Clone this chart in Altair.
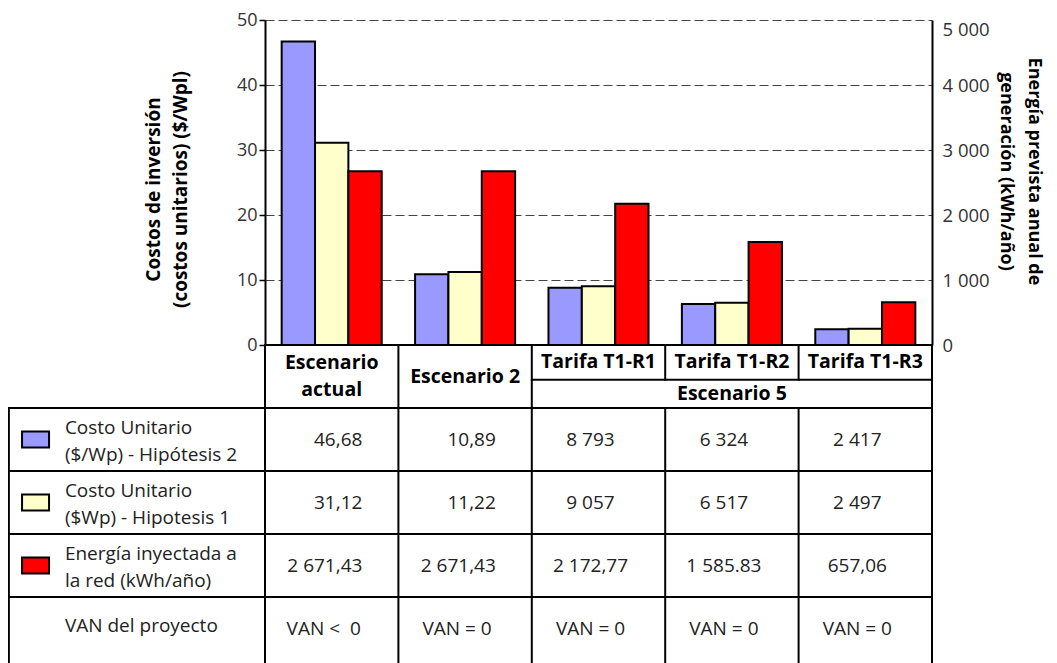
import altair as alt
import pandas as pd

# ---------------- data ----------------
scenarios = ["Escenario actual", "Escenario 2", "Tarifa T1-R1", "Tarifa T1-R2", "Tarifa T1-R3"]
series_names = [
    "Costo Unitario ($/Wp) - Hipótesis 2",
    "Costo Unitario ($Wp) - Hipotesis 1",
    "Energía inyectada a la red (kWh/año)",
]
series_colors = ["#9999FF", "#FFFFCC", "#FF0000"]
cost_h2 = [46.68, 10.89, 8.793, 6.324, 2.417]
cost_h1 = [31.12, 11.22, 9.057, 6.517, 2.497]
energy = [2671.43, 2671.43, 2172.77, 1585.83, 657.06]

cost_ticks = [0, 10, 20, 30, 40, 50]
energy_ticks = [0, 1000, 2000, 3000, 4000, 5000]

header_labels = ["Escenario\nactual", "Escenario 2", "Tarifa T1-R1", "Tarifa T1-R2", "Tarifa T1-R3"]
group_label = "Escenario 5"
row_labels = [
    "Costo Unitario\n($/Wp) - Hipótesis 2",
    "Costo Unitario\n($Wp) - Hipotesis 1",
    "Energía inyectada a\nla red (kWh/año)",
    "VAN del proyecto",
]
text_h2 = ["46,68", "10,89", "8 793", "6 324", "2 417"]
text_h1 = ["31,12", "11,22", "9 057", "6 517", "2 497"]
text_energy = ["2 671,43", "2 671,43", "2 172,77", "1 585.83", "657,06"]
text_van = ["VAN <\u00a0 0", "VAN = 0", "VAN = 0", "VAN = 0", "VAN = 0"]

# ---------------- layout (table units: one data column = 1) ----------------
W, H = 667, 325
ROW_PX = 63
LINE_H = 27
LABEL_COL = -1.92      # left edge of label column
SPLIT = 0.55           # split line inside header (Tarifa / Escenario 5)
BOTTOM = 5.3
F = "Open Sans"
FS = 19

n = len(scenarios)
tx = alt.Scale(domain=[0, n], range=[0, W], nice=False, zero=False)
ty = alt.Scale(domain=[0, 5], range=[H, H + 5 * ROW_PX], nice=False, zero=False)

# ---------------- bar data ----------------
cost_df = pd.DataFrame(
    [{"scenario": s, "series": series_names[0], "value": v} for s, v in zip(scenarios, cost_h2)]
    + [{"scenario": s, "series": series_names[1], "value": v} for s, v in zip(scenarios, cost_h1)]
)
energy_df = pd.DataFrame(
    [{"scenario": s, "series": series_names[2], "value": v} for s, v in zip(scenarios, energy)]
)

x_band = alt.X("scenario:N", sort=scenarios, axis=None,
               scale=alt.Scale(domain=scenarios, paddingInner=0, paddingOuter=0))
x_off = alt.XOffset("series:N", scale=alt.Scale(domain=series_names, paddingInner=0, paddingOuter=0.5))
color = alt.Color("series:N", scale=alt.Scale(domain=series_names, range=series_colors), legend=None)

cost_bars = alt.Chart(cost_df).mark_bar(stroke="black", strokeWidth=2).encode(
    x=x_band,
    xOffset=x_off,
    y=alt.Y(
        "value:Q",
        scale=alt.Scale(domain=[0, 50], nice=False),
        axis=alt.Axis(
            orient="left", values=cost_ticks,
            title=["Costos de inversión", "(costos unitarios) ($/Wpl)"],
            grid=True, gridDash=[9, 4], gridColor="#444444", gridWidth=1,
            domainColor="black", domainWidth=2,
            tickColor="black", tickSize=6, tickWidth=1.5,
            labelFont=F, labelFontSize=18, labelColor="#333333", labelPadding=2,
            titleFont=F, titleFontSize=19, titleFontWeight="bold", titleColor="black",
            titleAngle=270, titleBaseline="bottom", titleAlign="center",
            titleX=-102, titleY=169, titleLineHeight=27,
        ),
    ),
    color=color,
)

energy_bars = alt.Chart(energy_df).mark_bar(stroke="black", strokeWidth=2).encode(
    x=x_band,
    xOffset=x_off,
    y=alt.Y(
        "value:Q",
        scale=alt.Scale(domain=[0, 5000], nice=False),
        axis=alt.Axis(
            orient="right", values=energy_ticks,
            labelExpr="replace(format(datum.value, ','), ',', ' ')",
            labelBaseline={"condition": {"test": "datum.value === 5000", "value": "top"}, "value": "middle"},
            title=["Energía prevista anual de", "generación (kWh/año)"],
            grid=False, ticks=False,
            domainColor="black", domainWidth=2,
            labelFont=F, labelFontSize=18.5, labelColor="#333333", labelPadding=10,
            titleFont=F, titleFontSize=18, titleFontWeight="bold", titleColor="black",
            titleAngle=90, titleBaseline="bottom", titleAlign="center",
            titleX=92, titleY=151, titleLineHeight=28,
        ),
    ),
    color=color,
)

# ---------------- table structure ----------------
hlines = [{"y": 0, "x0": 0, "x1": n}, {"y": SPLIT, "x0": 2, "x1": n}]
hlines += [{"y": r, "x0": LABEL_COL, "x1": n} for r in range(1, 5)]
vlines = [{"x": LABEL_COL, "y0": 1, "y1": BOTTOM}]
for c in range(n + 1):
    if c in (3, 4):
        vlines.append({"x": c, "y0": 0, "y1": SPLIT})
        vlines.append({"x": c, "y0": 1, "y1": BOTTOM})
    else:
        vlines.append({"x": c, "y0": 0, "y1": BOTTOM})

h_rules = alt.Chart(pd.DataFrame(hlines)).mark_rule(color="black", strokeWidth=2, strokeCap="square").encode(
    x=alt.X("x0:Q", scale=tx, axis=None), x2="x1:Q",
    y=alt.Y("y:Q", scale=ty, axis=None),
)
v_rules = alt.Chart(pd.DataFrame(vlines)).mark_rule(color="black", strokeWidth=2, strokeCap="square").encode(
    x=alt.X("x:Q", scale=tx, axis=None),
    y=alt.Y("y0:Q", scale=ty, axis=None), y2="y1:Q",
)


def text_layer(rows, dy=0, **kw):
    return alt.Chart(pd.DataFrame(rows)).mark_text(
        font=F, lineBreak="\n", lineHeight=LINE_H, baseline="middle", dy=dy, **kw
    ).encode(
        x=alt.X("x:Q", scale=tx, axis=None), y=alt.Y("y:Q", scale=ty, axis=None), text="t:N",
    )


def split_multi(rows):
    multi = [r for r in rows if "\n" in r["t"]]
    single = [r for r in rows if "\n" not in r["t"]]
    return multi, single


# header texts
head = []
for i, lab in enumerate(header_labels):
    head.append({"x": i + 0.5, "y": 0.5 if i < 2 else SPLIT / 2, "t": lab})
head.append({"x": 2 + (n - 2) / 2, "y": (SPLIT + 1) / 2, "t": group_label})
hm, hs = split_multi(head)
head_style = dict(fontSize=19.5, fontWeight="bold", align="center", color="black")
head_multi = text_layer(hm, dy=-LINE_H / 2, **head_style)
head_single = text_layer(hs, **head_style)

# label column
labs = [{"x": LABEL_COL + 0.42, "y": r + 1.5, "t": t} for r, t in enumerate(row_labels)]
lm, ls = split_multi(labs)
lab_style = dict(fontSize=FS, align="left", color="#222222")
label_multi = text_layer(lm, dy=-12, **lab_style)
label_single = text_layer(ls, dy=-3, **lab_style)

sw_df = pd.DataFrame([{"x": LABEL_COL + 0.2, "y": r + 1.5, "series": s} for r, s in enumerate(series_names)])
swatches = alt.Chart(sw_df).mark_point(
    shape="M-1,-0.6L1,-0.6L1,0.6L-1,0.6Z", size=729, filled=True,
    stroke="black", strokeWidth=2, opacity=1,
).encode(
    x=alt.X("x:Q", scale=tx, axis=None), y=alt.Y("y:Q", scale=ty, axis=None), color=color,
)

# values
right_cells, center_cells = [], []
for r, texts in enumerate([text_h2, text_h1, text_energy, text_van]):
    for c, t in enumerate(texts):
        if r < 3 and c < 2:
            right_cells.append({"x": c + 0.73, "y": r + 1.5, "t": t})
        else:
            center_cells.append({"x": c + 0.5, "y": r + 1.5, "t": t})

val_right = text_layer(right_cells, fontSize=FS, align="right", color="#222222")
val_center = text_layer(center_cells, fontSize=FS, align="center", color="#222222", dx=-8)

chart = alt.layer(
    cost_bars, energy_bars, h_rules, v_rules, head_multi, head_single,
    label_multi, label_single, swatches, val_right, val_center
).resolve_scale(
    x="independent", y="independent"
).properties(
    width=W, height=H,
    padding={"left": 257, "top": 12, "right": 117, "bottom": 318},
    autosize=alt.AutoSizeParams(type="none"),
).configure_view(stroke=None)

chart.save("out.html", embed_options={"renderer": "svg", "actions": False})
